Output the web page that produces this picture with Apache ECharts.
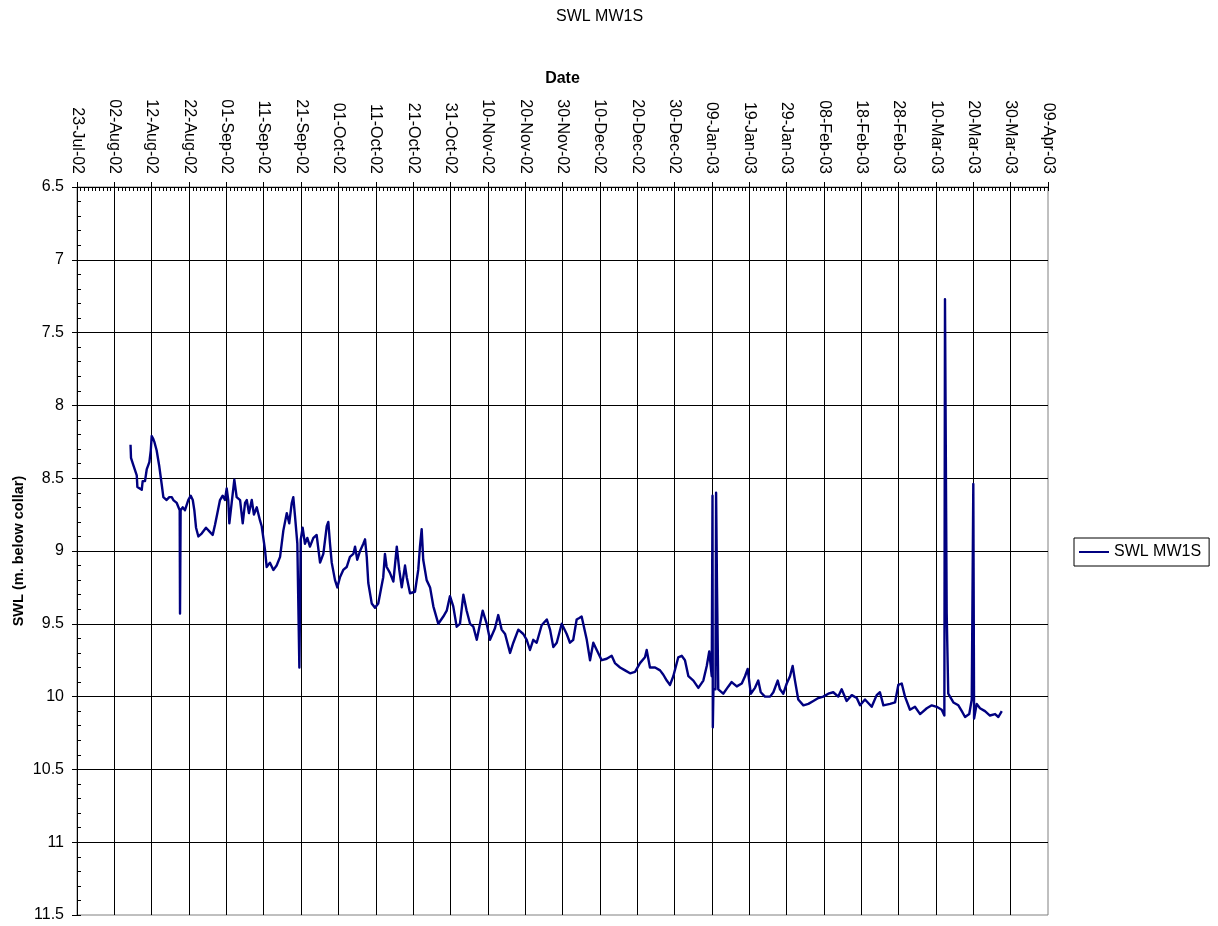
<!DOCTYPE html>
<html>
<head>
<meta charset="utf-8">
<title>SWL MW1S</title>
<script src="https://cdn.jsdelivr.net/npm/echarts@6/dist/echarts.min.js"></script>
<style>
  html, body { margin: 0; padding: 0; background: #fff; }
  #chart { width: 1218px; height: 926px; }
</style>
</head>
<body>
<div id="chart"></div>
<script>
// Standing water level record for bore MW1S (logger readings, m below collar)
const chartTitle = 'SWL MW1S';
const xAxisTitle = 'Date';
const yAxisTitle = 'SWL (m. below collar)';

const readingTimes = [
  '2002-08-06 08:00', '2002-08-06 11:00', '2002-08-07 02:00', '2002-08-08 00:00', '2002-08-08 04:00',
  '2002-08-08 16:00', '2002-08-09 08:00', '2002-08-09 14:00', '2002-08-10 05:00', '2002-08-10 16:00',
  '2002-08-11 09:00', '2002-08-11 18:00', '2002-08-12 00:00', '2002-08-12 10:00', '2002-08-12 17:00',
  '2002-08-13 08:00', '2002-08-14 01:00', '2002-08-14 16:00', '2002-08-15 03:00', '2002-08-16 00:00',
  '2002-08-16 17:00', '2002-08-17 09:00', '2002-08-17 19:00', '2002-08-18 17:00', '2002-08-19 03:00',
  '2002-08-19 12:00', '2002-08-19 14:00', '2002-08-19 18:00', '2002-08-20 07:00', '2002-08-20 22:00',
  '2002-08-21 19:00', '2002-08-22 11:00', '2002-08-23 00:00', '2002-08-23 10:00', '2002-08-23 21:00',
  '2002-08-24 12:00', '2002-08-25 09:00', '2002-08-26 13:00', '2002-08-27 15:00', '2002-08-28 08:00',
  '2002-08-28 23:00', '2002-08-29 14:00', '2002-08-30 07:00', '2002-08-31 00:00', '2002-08-31 15:00',
  '2002-09-01 02:00', '2002-09-01 12:00', '2002-09-01 19:00', '2002-09-02 10:00', '2002-09-03 03:00',
  '2002-09-03 18:00', '2002-09-04 16:00', '2002-09-05 09:00', '2002-09-06 00:00', '2002-09-06 11:00',
  '2002-09-07 01:00', '2002-09-07 19:00', '2002-09-08 09:00', '2002-09-09 03:00', '2002-09-10 00:00',
  '2002-09-10 11:00', '2002-09-11 08:00', '2002-09-11 19:00', '2002-09-12 16:00', '2002-09-13 14:00',
  '2002-09-14 11:00', '2002-09-15 09:00', '2002-09-16 06:00', '2002-09-17 04:00', '2002-09-17 20:00',
  '2002-09-18 12:00', '2002-09-18 22:00', '2002-09-19 09:00', '2002-09-20 00:00', '2002-09-20 13:00',
  '2002-09-20 22:00', '2002-09-21 10:00', '2002-09-22 01:00', '2002-09-22 16:00', '2002-09-23 09:00',
  '2002-09-24 07:00', '2002-09-25 04:00', '2002-09-26 02:00', '2002-09-26 23:00', '2002-09-27 21:00',
  '2002-09-28 07:00', '2002-09-28 18:00', '2002-09-29 05:00', '2002-09-30 02:00', '2002-09-30 17:00',
  '2002-10-01 10:00', '2002-10-02 07:00', '2002-10-03 05:00', '2002-10-04 02:00', '2002-10-05 00:00',
  '2002-10-05 11:00', '2002-10-06 01:00', '2002-10-06 19:00', '2002-10-07 16:00', '2002-10-08 03:00',
  '2002-10-08 14:00', '2002-10-09 00:00', '2002-10-09 22:00', '2002-10-10 19:00', '2002-10-11 16:00',
  '2002-10-12 08:00', '2002-10-13 00:00', '2002-10-13 11:00', '2002-10-13 22:00', '2002-10-14 19:00',
  '2002-10-15 17:00', '2002-10-16 15:00', '2002-10-17 07:00', '2002-10-17 23:00', '2002-10-18 20:00',
  '2002-10-19 07:00', '2002-10-20 04:00', '2002-10-21 12:00', '2002-10-22 09:00', '2002-10-22 20:00',
  '2002-10-23 07:00', '2002-10-23 17:00', '2002-10-24 15:00', '2002-10-25 13:00', '2002-10-26 10:00',
  '2002-10-27 18:00', '2002-10-29 02:00', '2002-10-30 00:00', '2002-10-30 21:00', '2002-10-31 18:00',
  '2002-11-01 16:00', '2002-11-02 13:00', '2002-11-03 11:00', '2002-11-04 08:00', '2002-11-05 06:00',
  '2002-11-06 03:00', '2002-11-07 01:00', '2002-11-07 22:00', '2002-11-08 15:00', '2002-11-09 17:00',
  '2002-11-10 14:00', '2002-11-11 22:00', '2002-11-12 19:00', '2002-11-13 17:00', '2002-11-14 15:00',
  '2002-11-15 23:00', '2002-11-16 20:00', '2002-11-18 04:00', '2002-11-19 12:00', '2002-11-20 10:00',
  '2002-11-21 07:00', '2002-11-22 04:00', '2002-11-23 02:00', '2002-11-24 10:00', '2002-11-25 19:00',
  '2002-11-26 16:00', '2002-11-27 13:00', '2002-11-28 11:00', '2002-11-29 19:00', '2002-12-01 03:00',
  '2002-12-02 00:00', '2002-12-02 21:00', '2002-12-03 19:00', '2002-12-04 12:00', '2002-12-05 03:00',
  '2002-12-05 14:00', '2002-12-06 12:00', '2002-12-07 09:00', '2002-12-08 06:00', '2002-12-09 04:00',
  '2002-12-10 12:00', '2002-12-11 20:00', '2002-12-13 04:00', '2002-12-14 01:00', '2002-12-15 10:00',
  '2002-12-16 18:00', '2002-12-18 02:00', '2002-12-19 10:00', '2002-12-20 18:00', '2002-12-22 02:00',
  '2002-12-22 13:00', '2002-12-23 10:00', '2002-12-24 19:00', '2002-12-26 03:00', '2002-12-27 00:00',
  '2002-12-27 22:00', '2002-12-28 19:00', '2002-12-29 16:00', '2002-12-31 00:00', '2002-12-31 22:00',
  '2003-01-01 19:00', '2003-01-02 17:00', '2003-01-04 01:00', '2003-01-05 09:00', '2003-01-06 17:00',
  '2003-01-07 15:00', '2003-01-08 07:00', '2003-01-08 23:00', '2003-01-09 04:00', '2003-01-09 06:00',
  '2003-01-09 10:00', '2003-01-09 23:00', '2003-01-10 03:00', '2003-01-10 09:00', '2003-01-10 17:00',
  '2003-01-12 01:00', '2003-01-13 10:00', '2003-01-14 07:00', '2003-01-15 16:00', '2003-01-17 00:00',
  '2003-01-17 21:00', '2003-01-18 14:00', '2003-01-19 10:00', '2003-01-20 13:00', '2003-01-21 10:00',
  '2003-01-22 02:00', '2003-01-23 05:00', '2003-01-24 14:00', '2003-01-25 11:00', '2003-01-26 15:00',
  '2003-01-27 06:00', '2003-01-28 03:00', '2003-01-29 01:00', '2003-01-29 22:00', '2003-01-30 15:00',
  '2003-01-31 06:00', '2003-02-01 03:00', '2003-02-02 12:00', '2003-02-03 20:00', '2003-02-05 04:00',
  '2003-02-06 12:00', '2003-02-07 20:00', '2003-02-09 04:00', '2003-02-10 12:00', '2003-02-11 20:00',
  '2003-02-12 18:00', '2003-02-14 02:00', '2003-02-15 11:00', '2003-02-16 19:00', '2003-02-17 16:00',
  '2003-02-19 00:00', '2003-02-20 19:00', '2003-02-22 03:00', '2003-02-23 00:00', '2003-02-23 22:00',
  '2003-02-25 17:00', '2003-02-27 01:00', '2003-02-27 22:00', '2003-02-28 20:00', '2003-03-01 17:00',
  '2003-03-03 01:00', '2003-03-04 09:00', '2003-03-05 18:00', '2003-03-07 13:00', '2003-03-08 21:00',
  '2003-03-10 05:00', '2003-03-11 13:00', '2003-03-12 06:00', '2003-03-12 10:00', '2003-03-12 21:00',
  '2003-03-13 07:00', '2003-03-13 18:00', '2003-03-14 16:00', '2003-03-16 00:00', '2003-03-16 22:00',
  '2003-03-17 19:00', '2003-03-18 22:00', '2003-03-19 14:00', '2003-03-20 00:00', '2003-03-20 05:00',
  '2003-03-20 22:00', '2003-03-21 19:00', '2003-03-23 03:00', '2003-03-24 11:00', '2003-03-25 20:00',
  '2003-03-26 17:00', '2003-03-27 15:00'
];

const swlDepth = [
  8.27, 8.36, 8.41, 8.48, 8.56,
  8.55, 8.58, 8.52, 8.52, 8.44,
  8.39, 8.31, 8.21, 8.23, 8.25,
  8.31, 8.42, 8.54, 8.63, 8.65,
  8.63, 8.63, 8.65, 8.67, 8.68,
  8.72, 9.43, 8.72, 8.70, 8.72,
  8.65, 8.62, 8.65, 8.72, 8.84,
  8.90, 8.88, 8.84, 8.87, 8.89,
  8.82, 8.74, 8.65, 8.62, 8.65,
  8.57, 8.65, 8.81, 8.67, 8.51,
  8.63, 8.65, 8.81, 8.67, 8.65,
  8.74, 8.65, 8.75, 8.70, 8.79,
  8.83, 8.99, 9.11, 9.08, 9.13,
  9.10, 9.04, 8.86, 8.74, 8.81,
  8.67, 8.63, 8.76, 8.95, 9.80,
  8.92, 8.84, 8.95, 8.91, 8.97,
  8.91, 8.89, 9.08, 9.02, 8.83,
  8.80, 8.95, 9.08, 9.20, 9.25,
  9.18, 9.13, 9.11, 9.04, 9.02,
  8.97, 9.06, 9.00, 8.95, 8.92,
  9.04, 9.22, 9.36, 9.39, 9.36,
  9.27, 9.18, 9.02, 9.11, 9.15,
  9.21, 8.97, 9.13, 9.25, 9.10,
  9.18, 9.29, 9.28, 9.13, 8.97,
  8.85, 9.06, 9.20, 9.25, 9.38,
  9.50, 9.45, 9.41, 9.31, 9.38,
  9.52, 9.50, 9.30, 9.41, 9.50,
  9.52, 9.61, 9.50, 9.41, 9.50,
  9.61, 9.53, 9.44, 9.54, 9.57,
  9.70, 9.63, 9.54, 9.57, 9.61,
  9.68, 9.61, 9.63, 9.51, 9.47,
  9.54, 9.66, 9.63, 9.50, 9.57,
  9.63, 9.61, 9.47, 9.46, 9.45,
  9.46, 9.61, 9.75, 9.63, 9.68,
  9.75, 9.74, 9.72, 9.77, 9.80,
  9.82, 9.84, 9.83, 9.77, 9.73,
  9.68, 9.80, 9.80, 9.82, 9.85,
  9.89, 9.92, 9.86, 9.73, 9.72,
  9.75, 9.86, 9.89, 9.94, 9.89,
  9.79, 9.69, 9.86, 8.62, 10.21,
  9.95, 9.95, 8.60, 9.25, 9.95,
  9.98, 9.93, 9.90, 9.93, 9.91,
  9.86, 9.81, 9.98, 9.94, 9.89,
  9.97, 10.00, 10.00, 9.97, 9.89,
  9.95, 9.98, 9.91, 9.86, 9.79,
  9.89, 10.02, 10.06, 10.05, 10.03,
  10.01, 10.00, 9.98, 9.97, 10.00,
  9.95, 10.03, 9.99, 10.01, 10.06,
  10.02, 10.07, 9.99, 9.97, 10.06,
  10.05, 10.04, 9.92, 9.91, 10.00,
  10.09, 10.07, 10.12, 10.08, 10.06,
  10.07, 10.09, 10.13, 7.27, 9.43,
  9.98, 9.99, 10.04, 10.06, 10.10,
  10.14, 10.12, 10.02, 8.54, 10.15,
  10.05, 10.08, 10.10, 10.13, 10.12,
  10.14, 10.10
];

// Axis ranges: dates run on spreadsheet day serials, 10-day major unit
const dateAxisStart = '2002-07-23';
const dateAxisEnd = '2003-04-09';
const dateStepDays = 10;
const depthMin = 6.5;
const depthMax = 11.5;
const depthStep = 0.5;

const MONTHS = ['Jan', 'Feb', 'Mar', 'Apr', 'May', 'Jun', 'Jul', 'Aug', 'Sep', 'Oct', 'Nov', 'Dec'];
const SERIAL_EPOCH = 25569; // day serial of 1970-01-01
const DAY_MS = 86400000;

function toSerial(s) {
  const parts = s.split(' ');
  const ymd = parts[0].split('-').map(Number);
  const hm = (parts[1] || '00:00').split(':').map(Number);
  return Date.UTC(ymd[0], ymd[1] - 1, ymd[2], hm[0], hm[1]) / DAY_MS + SERIAL_EPOCH;
}
function pad2(n) { return (n < 10 ? '0' : '') + n; }
function serialLabel(v) {
  const d = new Date(Math.round((v - SERIAL_EPOCH) * DAY_MS));
  return pad2(d.getUTCDate()) + '-' + MONTHS[d.getUTCMonth()] + '-' + pad2(d.getUTCFullYear() % 100);
}

const xMin = toSerial(dateAxisStart);
const xMax = toSerial(dateAxisEnd);
const seriesData = readingTimes.map((t, i) => [toSerial(t), swlDepth[i]]);

const FONT = "'Liberation Sans', Arial, Helvetica, sans-serif";

const chart = echarts.init(document.getElementById('chart'), null, { renderer: 'canvas' });

chart.setOption({
  animation: false,
  backgroundColor: '#ffffff',
  textStyle: { fontFamily: FONT, color: '#000' },
  title: {
    text: chartTitle,
    left: 556,
    top: 9,
    padding: 0,
    textAlign: 'left',
    textStyle: { fontFamily: FONT, fontSize: 16, fontWeight: 'normal', color: '#000' }
  },
  legend: {
    show: true,
    left: 1074,
    top: 538,
    orient: 'vertical',
    data: [{ name: chartTitle, icon: 'rect' }],
    itemWidth: 30,
    itemHeight: 2,
    padding: [6, 8, 6, 5],
    borderColor: '#000',
    borderWidth: 1,
    backgroundColor: '#fff',
    textStyle: { fontFamily: FONT, fontSize: 16, color: '#000' }
  },
  grid: {
    left: 77,
    top: 187,
    right: 170,
    bottom: 11,
    show: true,
    borderColor: '#808080',
    borderWidth: 1,
    backgroundColor: 'transparent',
    containLabel: false,
    outerBoundsMode: 'none'
  },
  xAxis: [
    {
      type: 'value',
      position: 'top',
      min: xMin,
      max: xMax,
      interval: dateStepDays,
      name: xAxisTitle,
      nameLocation: 'middle',
      nameGap: 100,
      nameMoveOverlap: false,
      nameTextStyle: { fontFamily: FONT, fontSize: 16, fontWeight: 'bold', color: '#000' },
      axisLine: { show: true, onZero: false, lineStyle: { color: '#000', width: 1 } },
      axisTick: { show: true, inside: false, length: 5, lineStyle: { color: '#000' } },
      axisLabel: {
        show: true,
        rotate: 90,
        margin: 13,
        fontFamily: FONT,
        fontSize: 16,
        color: '#000',
        hideOverlap: false,
        formatter: serialLabel
      },
      splitLine: { show: true, showMaxLine: false, lineStyle: { color: '#000', width: 1 } }
    },
    {
      // day minor ticks along the top axis
      type: 'value',
      position: 'top',
      min: xMin,
      max: xMax,
      interval: dateStepDays,
      axisLine: { show: false, onZero: false },
      axisTick: { show: true, inside: true, length: 4, lineStyle: { color: '#000' } },
      minorTick: { show: true, splitNumber: 10, length: 4, lineStyle: { color: '#000' } },
      axisLabel: { show: false },
      splitLine: { show: false }
    }
  ],
  yAxis: [
    {
      type: 'value',
      position: 'left',
      inverse: true,
      min: depthMin,
      max: depthMax,
      interval: depthStep,
      name: yAxisTitle,
      nameLocation: 'middle',
      nameRotate: 90,
      nameGap: 51,
      nameMoveOverlap: false,
      nameTextStyle: { fontFamily: FONT, fontSize: 14.5, fontWeight: 'bold', color: '#000' },
      axisLine: { show: true, onZero: false, lineStyle: { color: '#000', width: 1 } },
      axisTick: { show: true, inside: false, length: 5, lineStyle: { color: '#000' } },
      axisLabel: { show: true, margin: 13, fontFamily: FONT, fontSize: 16, color: '#000' },
      splitLine: { show: true, showMaxLine: false, lineStyle: { color: '#000', width: 1 } }
    },
    {
      // minor ticks on the depth axis
      type: 'value',
      position: 'left',
      inverse: true,
      min: depthMin,
      max: depthMax,
      interval: depthStep,
      axisLine: { show: false, onZero: false },
      axisTick: { show: true, inside: true, length: 4, lineStyle: { color: '#000' } },
      minorTick: { show: true, splitNumber: 5, length: 4, lineStyle: { color: '#000' } },
      axisLabel: { show: false },
      splitLine: { show: false }
    }
  ],
  series: [
    {
      name: chartTitle,
      type: 'line',
      xAxisIndex: 0,
      yAxisIndex: 0,
      data: seriesData,
      showSymbol: false,
      symbol: 'none',
      sampling: null,
      silent: true,
      lineStyle: { color: '#000080', width: 2.4, join: 'round' },
      itemStyle: { color: '#000080' },
      emphasis: { disabled: true }
    }
  ]
});
</script>
</body>
</html>
